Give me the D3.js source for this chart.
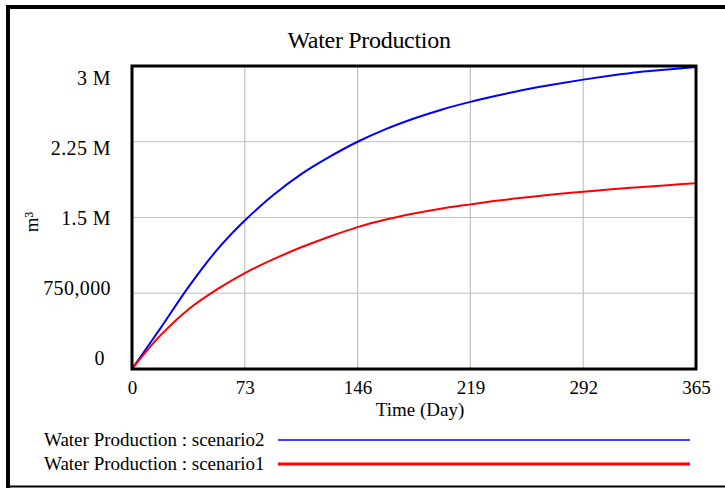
<!DOCTYPE html>
<html>
<head>
<meta charset="utf-8">
<script src="https://cdn.jsdelivr.net/npm/d3@7"></script>
<style>
  html, body { margin: 0; padding: 0; background: #fff; overflow: hidden; }
  svg { display: block; }
  text { font-family: "Liberation Serif", "Times New Roman", serif; fill: #000; }
</style>
</head>
<body>
<svg id="chart" width="725" height="489"></svg>
<script>
// ---- data ----
const title = "Water Production";
const xLabel = "Time (Day)";
const yLabel = "m³";
const days = [0, 18.25, 36.5, 54.75, 73, 91.25, 109.5, 127.75, 146, 164.25, 182.5,
              200.75, 219, 237.25, 255.5, 273.75, 292, 310.25, 328.5, 346.75, 365];
const scenario2 = [0, 400000, 810000, 1175000, 1470000, 1720000, 1930000, 2100000, 2250000, 2375000, 2480000,
                   2570000, 2645000, 2710000, 2770000, 2820000, 2865000, 2905000, 2940000, 2965000, 2990000];
const scenario1 = [0, 330000, 590000, 785000, 950000, 1085000, 1205000, 1310000, 1405000, 1480000, 1540000,
                   1590000, 1630000, 1668000, 1700000, 1730000, 1755000, 1780000, 1800000, 1820000, 1840000];
const xTicks = [0, 73, 146, 219, 292, 365];
const yTicks = [0, 750000, 1500000, 2250000, 3000000];
const yTickLabels = ["0", "750,000", "1.5 M", "2.25 M", "3 M"];
const seriesNames = ["Water Production : scenario2", "Water Production : scenario1"];
const seriesColors = ["#0000ff", "#ff0000"];

// ---- layout ----
const svg = d3.select("#chart");
const plot = { left: 132, right: 696, top: 66, bottom: 369 };

const x = d3.scaleLinear().domain([0, 365]).range([plot.left, plot.right]);
const y = d3.scaleLinear().domain([0, 3000000]).range([plot.bottom, plot.top]);
// Vensim-style tick label placement (labels spread slightly inside the axis range)
const yLab = d3.scaleLinear().domain([0, 3000000]).range([357, 77]);

// outer frame (left, top, bottom edges; right edge lies outside the picture)
const frame = svg.append("g").attr("stroke", "#000");
frame.append("line").attr("x1", 8).attr("x2", 8).attr("y1", 5).attr("y2", 488).attr("stroke-width", 4);
frame.append("line").attr("x1", 6).attr("x2", 725).attr("y1", 7).attr("y2", 7).attr("stroke-width", 4);
frame.append("line").attr("x1", 6).attr("x2", 725).attr("y1", 486.5).attr("y2", 486.5).attr("stroke-width", 2);

// title
svg.append("text")
  .attr("x", 369).attr("y", 48)
  .attr("text-anchor", "middle")
  .style("font-size", "24px")
  .style("letter-spacing", "-0.3px")
  .text(title);

// grid
const grid = svg.append("g").attr("stroke", "#c0c0c0").attr("stroke-width", 1.2);
grid.selectAll("line.v").data(xTicks.slice(1, -1)).join("line")
  .attr("x1", d => x(d)).attr("x2", d => x(d))
  .attr("y1", plot.top).attr("y2", plot.bottom);
grid.selectAll("line.h").data(yTicks.slice(1, -1)).join("line")
  .attr("x1", plot.left).attr("x2", plot.right)
  .attr("y1", d => y(d)).attr("y2", d => y(d));

// series
const line = d3.line().curve(d3.curveCatmullRom.alpha(0.5));
const seriesData = [scenario2, scenario1];
seriesData.forEach((vals, i) => {
  svg.append("path")
    .attr("d", line(days.map((t, j) => [x(t), y(vals[j])])))
    .attr("fill", "none")
    .attr("stroke", seriesColors[i])
    .attr("stroke-width", 2);
});

// plot frame
svg.append("rect")
  .attr("x", plot.left).attr("y", plot.top)
  .attr("width", plot.right - plot.left).attr("height", plot.bottom - plot.top)
  .attr("fill", "none").attr("stroke", "#000").attr("stroke-width", 3);

// x axis labels
const xAxis = d3.axisBottom(x).tickValues(xTicks).tickSize(0).tickPadding(0).tickFormat(d3.format("d"));
const gx = svg.append("g").attr("transform", `translate(0,${plot.bottom})`).call(xAxis);
gx.select(".domain").remove();
gx.selectAll("text")
  .attr("y", 25).attr("dy", null)
  .style("font-size", "19px")
  .style("font-family", "Liberation Serif, serif");

// y axis labels
const yAxis = d3.axisLeft(yLab).tickValues(yTicks).tickSize(0).tickPadding(0)
  .tickFormat((d, i) => yTickLabels[i]);
const gy = svg.append("g").attr("transform", "translate(111,0)").call(yAxis);
gy.select(".domain").remove();
gy.selectAll("text")
  .attr("x", d => d === 0 ? -6 : 0).attr("dy", "0.35em")
  .style("font-size", "20px")
  .style("letter-spacing", "0.4px")
  .style("white-space", "pre")
  .style("font-family", "Liberation Serif, serif");

// axis titles
svg.append("text")
  .attr("x", 420).attr("y", 416)
  .attr("text-anchor", "middle")
  .style("font-size", "19px")
  .text(xLabel);
svg.append("text")
  .attr("transform", "translate(38,222) rotate(-90)")
  .attr("text-anchor", "middle")
  .style("font-size", "19px")
  .text(yLabel);

// legend
const legendY = [440, 464];
const legendW = [1.5, 3];
seriesNames.forEach((name, i) => {
  svg.append("text")
    .attr("x", 44).attr("y", legendY[i] + 6)
    .style("font-size", "19px")
    .text(name);
  svg.append("line")
    .attr("x1", 278).attr("x2", 690)
    .attr("y1", legendY[i]).attr("y2", legendY[i])
    .attr("stroke", seriesColors[i])
    .attr("stroke-width", legendW[i]);
});
</script>
</body>
</html>
